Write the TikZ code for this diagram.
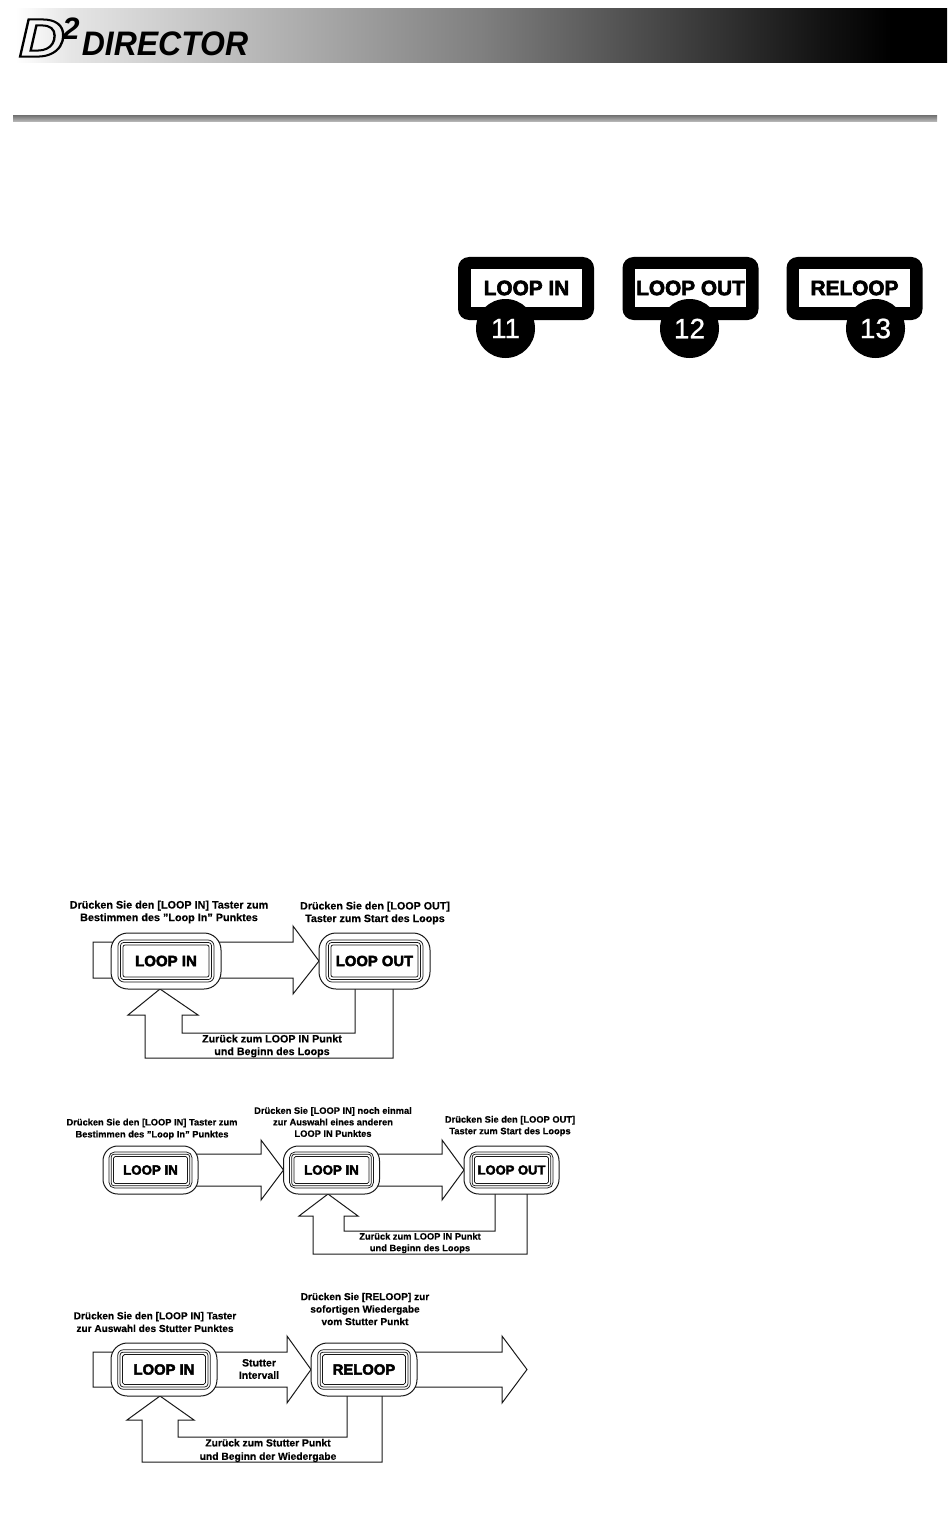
\documentclass[tikz,border=0pt]{standalone}
\usepackage{fontspec}
\setmainfont[BoldFeatures={FakeBold=0.4}]{Liberation Sans}
\newfontfamily\heavyfont[BoldFeatures={FakeBold=3}]{Liberation Sans}
\newfontfamily\numfont[UprightFeatures={FakeBold=0.7}]{Liberation Sans}
\usepackage{tikz}
\pgfdeclarelayer{back}
\pgfsetlayers{back,main}
\pgfdeclarehorizontalshading{hdrfade}{100bp}{color(0bp)=(white); color(25bp)=(white); color(28bp)=(black!10); color(50bp)=(black!50); color(68bp)=(black!92); color(72bp)=(black); color(100bp)=(black)}
\newcommand{\fsz}[2]{\fontsize{#1}{#2}\selectfont}
\newcommand{\strokeon}{\special{pdf:code 1 Tr 2 w}}
\newcommand{\strokeoff}{\special{pdf:code 0 Tr}}
\tikzset{
  plate/.style={fill=black,rounded corners=11pt,inner sep=0pt,outer sep=0pt},
  platein/.style={fill=white,inner sep=0pt,outer sep=0pt,font=\heavyfont\bfseries\fsz{20.8}{20.8}},
  badge/.style={circle,fill=black,text=white,minimum size=59pt,inner sep=0pt,font=\numfont\fsz{28}{28}},
  flow/.style={draw=black!90,line width=1pt,line join=miter},
  btnout/.style={draw=black!90,fill=white,line width=1pt,inner sep=0pt,outer sep=0pt},
  btnfrm/.style={draw=black!90,line width=0.75pt,inner sep=0pt,outer sep=0pt},
  note/.style={align=center,inner sep=0pt,font=\bfseries}
}
\newcommand{\btn}[7]{%
  \node [btnout,rounded corners=#6*17pt,minimum width=#3pt,minimum height=#4pt] (#1) at (#2) {};
  \node [btnfrm,rounded corners=#6*6pt,minimum width=#3pt-#6*14pt,minimum height=#4pt-#6*14pt] (#1a) at (#2) {};
  \node [btnfrm,rounded corners=#6*3pt,minimum width=#3pt-#6*19pt,minimum height=#4pt-#6*19pt] (#1b) at (#2) {};
  \node [btnfrm,rounded corners=#6*2pt,minimum width=#3pt-#6*24pt,minimum height=#4pt-#6*24pt,font=\heavyfont\bfseries\fsz{#7}{#7}] (#1c) at (#2) {#5};
}
\begin{document}
\begin{tikzpicture}[x=1pt,y=-1pt]
\useasboundingbox (0,0) rectangle (950,1538);
\shade [shading=hdrfade] (15,9) rectangle (947,63);
\shade [top color=black!52,bottom color=black!25] (13,116) rectangle (937,122);
\node [inner sep=0pt,xscale=1.18,font=\bfseries\itshape\fsz{54}{54}] (logod) at (42,38) {\strokeon D\strokeoff};
\node [inner sep=0pt,font=\heavyfont\bfseries\itshape\fsz{31}{31}] (logotwo) at (71,29) {2};
\node [inner sep=0pt,xscale=0.94,font=\heavyfont\bfseries\itshape\fsz{34}{34}] (logoname) at (165,44) {DIRECTOR};

\node [plate,minimum width=136pt,minimum height=63pt] (plin) at (526,288.5) {};
\node [platein,minimum width=111pt,minimum height=38pt] (plinw) at (526.5,288) {LOOP IN};
\node [badge] (nin) at (505.5,328.5) {11};
\node [plate,minimum width=136pt,minimum height=63pt] (plout) at (690.5,288.5) {};
\node [platein,minimum width=111pt,minimum height=38pt] (ploutw) at (690.5,288) {LOOP OUT};
\node [badge] (nout) at (689.5,328.5) {12};
\node [plate,minimum width=136pt,minimum height=63pt] (plre) at (854.5,288.5) {};
\node [platein,minimum width=111pt,minimum height=38pt] (plrew) at (854.5,288) {RELOOP};
\node [badge] (nre) at (875.5,328.5) {13};

\btn{ain}{166,961}{110}{56}{LOOP IN}{1}{15}
\btn{aout}{374.5,961}{111}{56}{LOOP OUT}{1}{14.8}
\begin{pgfonlayer}{back}
\draw [flow] (93,942) -- (293,942) -- (293,926) -- (aout.west) -- (293,994) -- (293,978) -- (93,978) -- cycle;
\draw [flow] (355,0 |- aout.south) -- (355,1033) -- (182,1033) -- (182,1015) -- (198,1015) -- (160,0 |- ain.south) -- (128,1015) -- (145,1015) -- (145,1058) -- (393,1058) -- (393,0 |- aout.south);
\end{pgfonlayer}
\node [note,font=\bfseries\fsz{10.8}{12.6}] (anotea) at (169,912) {Drücken Sie den [LOOP IN] Taster zum\\Bestimmen des \char34 Loop In\char34{} Punktes};
\node [note,font=\bfseries\fsz{10.7}{12.6}] (anoteb) at (375,913) {Drücken Sie den [LOOP OUT]\\Taster zum Start des Loops};
\node [note,font=\bfseries\fsz{10.7}{12.6}] (anotec) at (272,1046) {Zurück zum LOOP IN Punkt\\und Beginn des Loops};

\btn{bin}{150.5,1170}{95}{48}{LOOP IN}{0.87}{13.3}
\btn{bagain}{331.5,1170}{96}{48}{LOOP IN}{0.87}{13.3}
\btn{bout}{511.5,1170}{95}{48}{LOOP OUT}{0.87}{13}
\begin{pgfonlayer}{back}
\draw [flow] (bin.center |- 0,1154) -- (261,1154) -- (261,1140) -- (bagain.west) -- (261,1200) -- (261,1186) -- (bin.center |- 0,1186);
\draw [flow] (bagain.center |- 0,1154) -- (442,1154) -- (442,1140) -- (bout.west) -- (442,1200) -- (442,1186) -- (bagain.center |- 0,1186);
\draw [flow] (495,0 |- bout.south) -- (495,1231) -- (344,1231) -- (344,1216) -- (358,1216) -- (328,0 |- bagain.south) -- (299,1216) -- (313,1216) -- (313,1254) -- (527,1254) -- (527,0 |- bout.south);
\end{pgfonlayer}
\node [note,font=\bfseries\fsz{9.3}{12}] (bnotea) at (152,1129) {Drücken Sie den [LOOP IN] Taster zum\\Bestimmen des \char34 Loop In\char34{} Punktes};
\node [note,font=\bfseries\fsz{9.3}{11.5}] (bnoteb) at (333,1122) {Drücken Sie [LOOP IN] noch einmal\\zur Auswahl eines anderen\\LOOP IN Punktes};
\node [note,font=\bfseries\fsz{9.3}{11.6}] (bnotec) at (510,1126) {Drücken Sie den [LOOP OUT]\\Taster zum Start des Loops};
\node [note,font=\bfseries\fsz{9.3}{11.6}] (bnoted) at (420,1243) {Zurück zum LOOP IN Punkt\\und Beginn des Loops};

\btn{cin}{164,1369.5}{106}{53}{LOOP IN}{0.96}{14.8}
\btn{cre}{364,1369.5}{106}{53}{RELOOP}{0.96}{14.8}
\begin{pgfonlayer}{back}
\draw [flow] (93,1352) -- (287,1352) -- (287,1336) -- (cre.west) -- (287,1403) -- (287,1387) -- (93,1387) -- cycle;
\draw [flow] (cre.center |- 0,1352) -- (502,1352) -- (502,1336) -- (527,1369.5) -- (502,1403) -- (502,1387) -- (cre.center |- 0,1387);
\draw [flow] (347,0 |- cre.south) -- (347,1437) -- (178,1437) -- (178,1420) -- (194,1420) -- (160,0 |- cin.south) -- (127,1420) -- (142,1420) -- (142,1462) -- (382,1462) -- (382,0 |- cre.south);
\end{pgfonlayer}
\node [note,font=\bfseries\fsz{10.1}{12.7}] (cnotea) at (155,1322) {Drücken Sie den [LOOP IN] Taster\\zur Auswahl des Stutter Punktes};
\node [note,font=\bfseries\fsz{10.1}{12.5}] (cnoteb) at (365,1309) {Drücken Sie [RELOOP] zur\\sofortigen Wiedergabe\\vom Stutter Punkt};
\node [note,font=\bfseries\fsz{10.5}{12.4}] (cnotec) at (259,1369) {Stutter\\Intervall};
\node [note,font=\bfseries\fsz{10.3}{13.4}] (cnoted) at (268,1450.5) {Zurück zum Stutter Punkt\\und Beginn der Wiedergabe};
\end{tikzpicture}
\end{document}
